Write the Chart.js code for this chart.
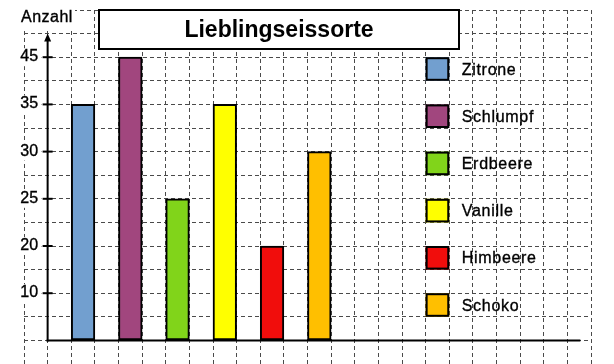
<!DOCTYPE html>
<html><head><meta charset="utf-8">
<script src="https://cdn.jsdelivr.net/npm/chart.js@4/dist/chart.umd.min.js"></script>
<style>html,body{margin:0;padding:0;background:#fff;}canvas{display:block}</style>
</head><body>
<canvas id="c" width="614" height="364"></canvas>
<script>
// ---- data ----
const titleText = 'Lieblingseissorte';
const yAxisTitle = 'Anzahl';
const categories = ['Zitrone', 'Schlumpf', 'Erdbeere', 'Vanille', 'Himbeere', 'Schoko'];
const values = [35, 45, 25, 35, 20, 30];
const colors = ['#729fcf', '#a1467e', '#81d41a', '#ffff00', '#f10d0c', '#ffbf00'];
// hand-drawn axis: these labels sit on equally spaced grid lines
const yTickLabels = [0, 10, 20, 25, 30, 35, 45];

// ---- layout of the squared paper ----
const gridColumns = 24, firstColumn = 2, columnStep = 2, legendColumn = 17;

const xLabels = Array(gridColumns).fill('');
const barData = Array(gridColumns).fill(null);
const barColors = Array(gridColumns).fill('#fff');
categories.forEach((c, i) => {
  const k = firstColumn + columnStep * i;
  xLabels[k] = c;
  barData[k] = yTickLabels.indexOf(values[i]);
  barColors[k] = colors[i];
});

const FONT = '"Liberation Sans", Arial, sans-serif';

function heavyText(ctx, t, x, y) {
  ctx.save();
  ctx.lineWidth = 0.35;
  ctx.strokeStyle = '#000';
  ctx.fillText(t, x, y);
  ctx.strokeText(t, x, y);
  ctx.restore();
}

const overlay = {
  id: 'overlay',
  afterDatasetsDraw(chart) {
    const ctx = chart.ctx, xs = chart.scales.x, ys = chart.scales.y;
    const colW = xs.width / gridColumns;
    const axisX = xs.left + colW;
    const y0 = ys.getPixelForValue(0);
    ctx.save();
    ctx.fillStyle = '#000';
    ctx.strokeStyle = '#000';
    // x axis
    ctx.lineWidth = 2;
    ctx.beginPath(); ctx.moveTo(axisX - 1, y0); ctx.lineTo(xs.left + colW * 23.55, y0); ctx.stroke();
    // y axis with arrow
    const yTop = ys.getPixelForValue(6.5);
    ctx.beginPath(); ctx.moveTo(axisX, y0 + 1); ctx.lineTo(axisX, yTop + 7); ctx.stroke();
    ctx.beginPath(); ctx.moveTo(axisX, yTop); ctx.lineTo(axisX - 3.5, yTop + 8); ctx.lineTo(axisX + 3.5, yTop + 8); ctx.closePath(); ctx.fill();
    // y labels and ticks
    ctx.font = '16px ' + FONT;
    ctx.textAlign = 'right'; ctx.textBaseline = 'alphabetic';
    for (let i = 1; i < yTickLabels.length; i++) {
      const py = ys.getPixelForValue(i);
      ctx.fillStyle = '#fff';
      ctx.fillRect(axisX - 27, py - 9, 21, 18);
      ctx.fillStyle = '#000';
      heavyText(ctx, String(yTickLabels[i]), axisX - 9.5, py + 4);
      ctx.lineWidth = 2;
      ctx.beginPath(); ctx.moveTo(axisX - 5, py); ctx.lineTo(axisX + 5, py); ctx.stroke();
    }
    // axis title
    ctx.fillStyle = '#fff';
    ctx.fillRect(18, 0, 57, 31);
    ctx.fillStyle = '#000';
    ctx.textAlign = 'left';
    ctx.letterSpacing = '0.5px';
    heavyText(ctx, yAxisTitle, 21, 22);
    // title box
    ctx.letterSpacing = '0px';
    ctx.fillStyle = '#fff';
    ctx.fillRect(99, 10, 360, 39);
    ctx.lineWidth = 2;
    ctx.strokeRect(99, 10, 360, 39);
    ctx.fillStyle = '#000';
    ctx.font = 'bold 23px ' + FONT;
    ctx.textAlign = 'center';
    ctx.fillText(titleText, 279, 37);
    // legend
    ctx.font = '16px ' + FONT;
    ctx.textAlign = 'left';
    ctx.letterSpacing = '0.7px';
    categories.forEach((c, i) => {
      const top = ys.getPixelForValue(6 - i), bot = ys.getPixelForValue(5.5 - i);
      const left = xs.left + colW * legendColumn;
      ctx.fillStyle = colors[i];
      ctx.fillRect(left, top, colW, bot - top);
      ctx.lineWidth = 2;
      ctx.strokeStyle = '#000';
      ctx.strokeRect(left + 1, top + 1, colW - 2, bot - top - 2);
      ctx.fillStyle = '#000';
      heavyText(ctx, c, left + colW + 12.5, (top + bot) / 2 + 5.5);
    });
    ctx.restore();
  }
};

new Chart(document.getElementById('c'), {
  type: 'bar',
  data: {
    labels: xLabels,
    datasets: [{
      data: barData,
      backgroundColor: barColors,
      borderColor: '#000',
      borderWidth: 2,
      borderSkipped: false,
      categoryPercentage: 1,
      barPercentage: 1
    }]
  },
  options: {
    responsive: false,
    animation: false,
    devicePixelRatio: 1,
    layout: { padding: { left: 24, right: 23, top: 10, bottom: 0 } },
    plugins: { legend: { display: false }, tooltip: { enabled: false }, title: { display: false } },
    scales: {
      x: {
        offset: true,
        ticks: { display: false },
        grid: { color: '#4a4a4a', lineWidth: 1, drawTicks: false, offset: true },
        border: { display: false, dash: [4, 3] }
      },
      y: {
        min: -0.5, max: 7,
        ticks: { display: false, stepSize: 0.5 },
        grid: { color: '#4a4a4a', lineWidth: 1, drawTicks: false },
        border: { display: false, dash: [4, 3] }
      }
    }
  },
  plugins: [overlay]
});
</script>
</body></html>
